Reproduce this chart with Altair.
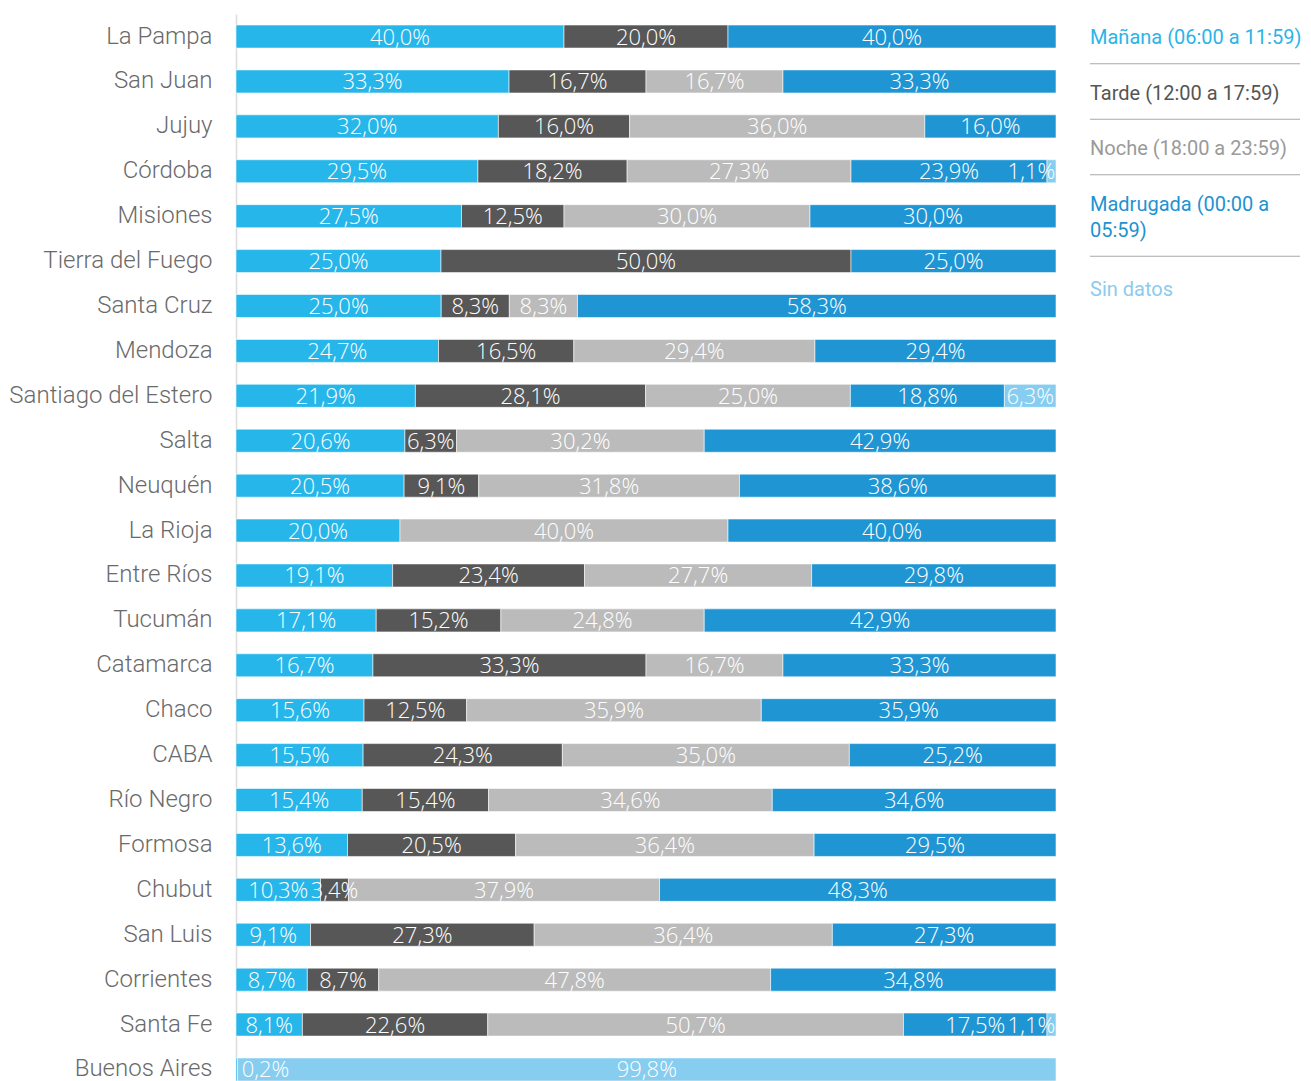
import altair as alt
import pandas as pd

provinces = ["La Pampa", "San Juan", "Jujuy", "Córdoba", "Misiones", "Tierra del Fuego",
             "Santa Cruz", "Mendoza", "Santiago del Estero", "Salta", "Neuquén", "La Rioja",
             "Entre Ríos", "Tucumán", "Catamarca", "Chaco", "CABA", "Río Negro", "Formosa",
             "Chubut", "San Luis", "Corrientes", "Santa Fe", "Buenos Aires"]

periods = ["Mañana (06:00 a 11:59)", "Tarde (12:00 a 17:59)", "Noche (18:00 a 23:59)",
           "Madrugada (00:00 a\n05:59)", "Sin datos"]

manana =    [40.0, 33.3, 32.0, 29.5, 27.5, 25.0, 25.0, 24.7, 21.9, 20.6, 20.5, 20.0,
             19.1, 17.1, 16.7, 15.6, 15.5, 15.4, 13.6, 10.3, 9.1, 8.7, 8.1, 0.2]
tarde =     [20.0, 16.7, 16.0, 18.2, 12.5, 50.0, 8.3, 16.5, 28.1, 6.3, 9.1, 0.0,
             23.4, 15.2, 33.3, 12.5, 24.3, 15.4, 20.5, 3.4, 27.3, 8.7, 22.6, 0.0]
noche =     [0.0, 16.7, 36.0, 27.3, 30.0, 0.0, 8.3, 29.4, 25.0, 30.2, 31.8, 40.0,
             27.7, 24.8, 16.7, 35.9, 35.0, 34.6, 36.4, 37.9, 36.4, 47.8, 50.7, 0.0]
madrugada = [40.0, 33.3, 16.0, 23.9, 30.0, 25.0, 58.3, 29.4, 18.8, 42.9, 38.6, 40.0,
             29.8, 42.9, 33.3, 35.9, 25.2, 34.6, 29.5, 48.3, 27.3, 34.8, 17.5, 0.0]
sin_datos = [0.0, 0.0, 0.0, 1.1, 0.0, 0.0, 0.0, 0.0, 6.3, 0.0, 0.0, 0.0,
             0.0, 0.0, 0.0, 0.0, 0.0, 0.0, 0.0, 0.0, 0.0, 0.0, 1.1, 99.8]

bar_colors = ["#27B6E9", "#575757", "#BBBBBB", "#1F96D3", "#86CDF0"]
text_colors = ["#2AB4E8", "#555555", "#9A9A9A", "#1E93D0", "#8CCBEE"]

series = [manana, tarde, noche, madrugada, sin_datos]
rows = []
for i, p in enumerate(provinces):
    for k, per in enumerate(periods):
        v = series[k][i]
        rows.append({"province": p, "period": per, "order": k, "value": v,
                     "label": f"{v:.1f}".replace(".", ",") + "%"})
df = pd.DataFrame(rows)

W, H = 820, 1067

color_scale = alt.Scale(domain=periods, range=bar_colors)

y_enc = alt.Y("province:N", sort=provinces, title=None,
              scale=alt.Scale(paddingInner=0.487, paddingOuter=0.1227, align=1),
              axis=alt.Axis(ticks=False, domainColor="#dcdcdc", domainWidth=1.5,
                            labelFontSize=24, labelFont="Roboto", labelFontWeight=300,
                            labelColor="#6a6a6a", labelPadding=24, labelLimit=400))

base = alt.Chart(df).transform_filter("datum.value > 0").transform_stack(
    stack="value", groupby=["province"], as_=["x0", "x1"],
    sort=[alt.SortField("order")], offset="normalize"
).transform_calculate(
    mid="clamp((datum.x0 + datum.x1) / 2, 0.036, 0.970)"
)

bars = base.mark_bar(stroke="white", strokeWidth=0.8, strokeOpacity=0.7).encode(
    y=y_enc,
    x=alt.X("x0:Q", scale=alt.Scale(domain=[0, 1], nice=False, zero=False), axis=None),
    x2="x1:Q",
    color=alt.Color("period:N", scale=color_scale, legend=None),
)

labels = base.mark_text(color="white", fontSize=22, font="Open Sans", fontWeight=300,
                        align="center", baseline="middle", dy=1).encode(
    y=alt.Y("province:N", sort=provinces),
    x=alt.X("mid:Q"),
    text="label:N",
)

main = alt.layer(bars, labels).properties(width=W, height=H)

# custom legend with separators
LH = 26.0
SPACING = 55.5 / LH
EXTRA = 30.0 / LH
lines = [p.count("\n") + 1 for p in periods]
pos = []
c = (38 - 14) / LH
for n in lines:
    pos.append(c)
    c += (n - 1) * EXTRA + SPACING
seps = [pos[i] + (lines[i] - 1) + SPACING / 2 - 2 / LH for i in range(len(periods) - 1)]
leg_df = pd.DataFrame({"period": periods, "pos": pos})
sep_df = pd.DataFrame({"pos": seps})

LW = 210
ly = alt.Scale(domain=[0, H / LH], reverse=True, nice=False, zero=False)

leg_text = alt.Chart(leg_df).mark_text(
    align="left", baseline="alphabetic", fontSize=20, font="Roboto", lineBreak="\n",
    lineHeight=LH, dy=6
).encode(
    x=alt.value(0),
    y=alt.Y("pos:Q", scale=ly, axis=None),
    text="period:N",
    color=alt.Color("period:N", scale=alt.Scale(domain=periods, range=text_colors), legend=None),
)

leg_rules = alt.Chart(sep_df).mark_rule(color="#a8a8a8", strokeWidth=1.2).encode(
    x=alt.value(0), x2=alt.value(LW),
    y=alt.Y("pos:Q", scale=ly, axis=None),
)

legend = alt.layer(leg_rules, leg_text).properties(width=LW, height=H)

chart = alt.hconcat(main, legend, spacing=32).resolve_scale(
    y="independent", color="independent"
).properties(
    padding={"left": 0, "top": 6, "right": 0, "bottom": 0},
    background="white",
).configure_view(strokeWidth=0, stroke="transparent")

chart.save("out.html", embed_options={"renderer": "svg", "actions": False})
